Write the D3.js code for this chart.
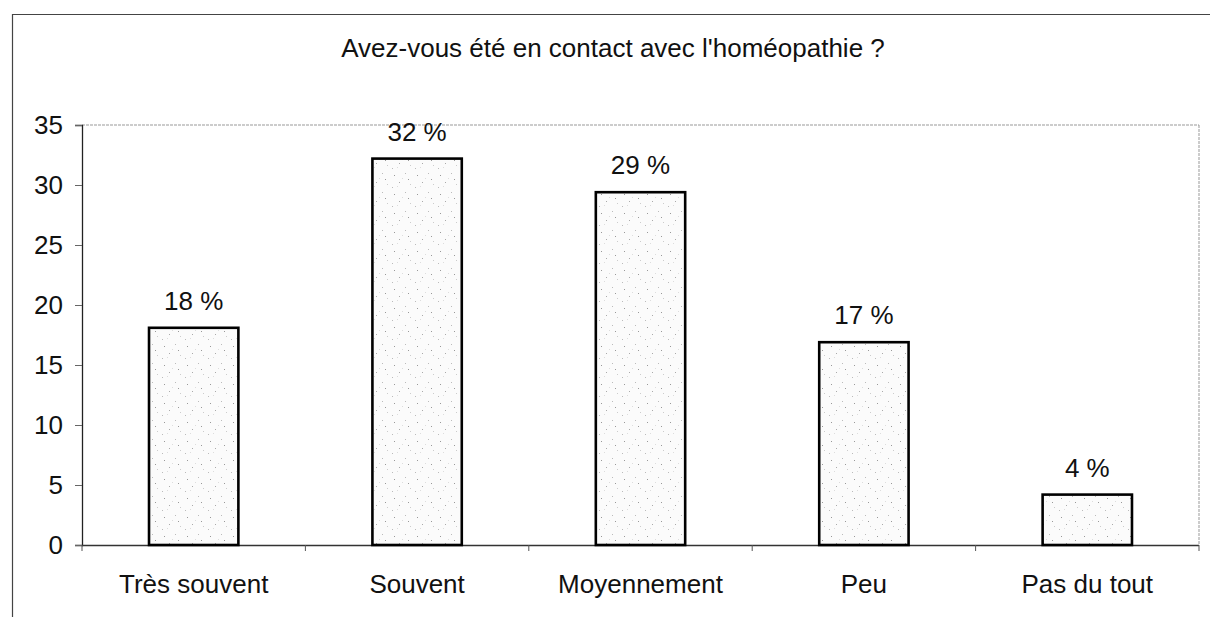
<!DOCTYPE html>
<html>
<head>
<meta charset="utf-8">
<script src="https://cdn.jsdelivr.net/npm/d3@7"></script>
<style>
  body { margin: 0; background: #fff; }
  svg { display: block; font-family: "Liberation Sans", Arial, sans-serif; }
</style>
</head>
<body>
<svg id="chart" width="1210" height="617"></svg>
<script>
// data
const categories = ["Très souvent", "Souvent", "Moyennement", "Peu", "Pas du tout"];
const values = [18.1, 32.2, 29.4, 16.9, 4.2];
const labels = ["18 %", "32 %", "29 %", "17 %", "4 %"];
const yTicks = [0, 5, 10, 15, 20, 25, 30, 35];
const title = "Avez-vous été en contact avec l'homéopathie ?";

const svg = d3.select("#chart");
const plotLeft = 82, plotRight = 1199, plotTop = 125, plotBottom = 545;
const fs = 26;

// speckle pattern for bar fill
const defs = svg.append("defs");
const pat = defs.append("pattern")
  .attr("id", "speckle")
  .attr("patternUnits", "userSpaceOnUse")
  .attr("width", 23).attr("height", 19);
pat.append("rect").attr("width", 23).attr("height", 19).attr("fill", "#fbfbfb");
[[3,4,"#999"],[14,2,"#bbb"],[8,11,"#aaa"],[19,13,"#ccc"],[1,16,"#bbb"],[11,7,"#ddd"],[17,8,"#999"],[6,15,"#ddd"]]
  .forEach(d => pat.append("rect").attr("x", d[0]).attr("y", d[1]).attr("width", 1).attr("height", 1).attr("fill", d[2]));

// outer frame (top and left visible)
svg.append("path")
  .attr("d", "M12.5,617 L12.5,14.5 L1210,14.5")
  .attr("fill", "none").attr("stroke", "#444").attr("stroke-width", 1.2);

svg.append("text")
  .attr("x", 613).attr("y", 57)
  .attr("text-anchor", "middle")
  .attr("font-size", fs)
  .attr("fill", "#111")
  .text(title);

const x = d3.scaleBand().domain(categories).range([plotLeft, plotRight]).paddingInner(0.6).paddingOuter(0.3);
const xb = d3.scaleBand().domain(categories).range([plotLeft, plotRight]);
const y = d3.scaleLinear().domain([0, 35]).range([plotBottom, plotTop]);

// top gridline and right border (dotted light)
svg.append("line")
  .attr("x1", plotLeft).attr("x2", plotRight).attr("y1", y(35)).attr("y2", y(35))
  .attr("stroke", "#999").attr("stroke-dasharray", "3,1");
svg.append("line")
  .attr("x1", plotRight).attr("x2", plotRight).attr("y1", y(35)).attr("y2", plotBottom)
  .attr("stroke", "#999").attr("stroke-dasharray", "3,1");

// y axis
const yAxis = svg.append("g")
  .attr("transform", `translate(${plotLeft},0)`)
  .call(d3.axisLeft(y).tickValues(yTicks).tickSize(7).tickPadding(12));
yAxis.select(".domain").attr("stroke", "#222").attr("stroke-width", 1.3);
yAxis.selectAll(".tick line").attr("stroke", "#666");
yAxis.selectAll(".tick text").attr("font-size", fs).attr("fill", "#111")
  .attr("font-family", "Liberation Sans, Arial, sans-serif");

// x axis: ticks at category boundaries
const boundaries = categories.map(c => xb(c)).concat([plotRight]);
svg.append("line")
  .attr("x1", plotLeft).attr("x2", plotRight).attr("y1", plotBottom + 0.5).attr("y2", plotBottom + 0.5)
  .attr("stroke", "#333").attr("stroke-width", 1.3);
svg.selectAll(".xtick").data(boundaries).enter().append("line")
  .attr("x1", d => d).attr("x2", d => d)
  .attr("y1", plotBottom).attr("y2", plotBottom + 6)
  .attr("stroke", "#555");
svg.selectAll(".xlab").data(categories).enter().append("text")
  .attr("x", d => x(d) + x.bandwidth() / 2)
  .attr("y", 593)
  .attr("text-anchor", "middle")
  .attr("font-size", fs).attr("fill", "#111")
  .text(d => d);

// bars
svg.selectAll(".bar").data(values).enter().append("rect")
  .attr("x", (d, i) => x(categories[i]))
  .attr("y", d => y(d))
  .attr("width", x.bandwidth())
  .attr("height", d => plotBottom - y(d))
  .attr("fill", "url(#speckle)")
  .attr("stroke", "#000").attr("stroke-width", 2.6);

svg.selectAll(".val").data(values).enter().append("text")
  .attr("x", (d, i) => x(categories[i]) + x.bandwidth() / 2)
  .attr("y", d => y(d) - 18)
  .attr("text-anchor", "middle")
  .attr("font-size", fs).attr("fill", "#111")
  .text((d, i) => labels[i]);
</script>
</body>
</html>
